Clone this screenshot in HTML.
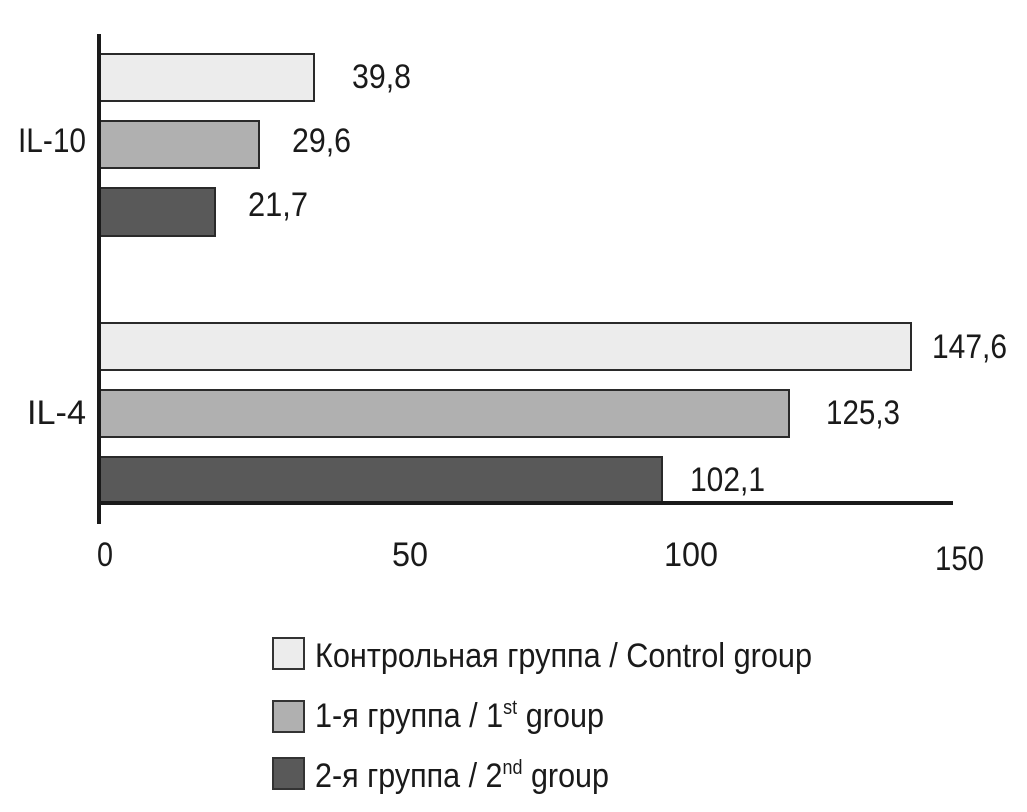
<!DOCTYPE html>
<html><head><meta charset="utf-8"><style>
html,body{margin:0;padding:0;background:#fff;}
svg{display:block}
text{font-family:"Liberation Sans Narrow","Liberation Sans",sans-serif;fill:#1a1a1a;font-size:34px}
</style></head><body>
<svg width="1027" height="812" viewBox="0 0 1027 812">
<g stroke="#2a2a2a" stroke-width="2">
<rect x="100" y="54" width="214" height="47" fill="#ececec"/>
<rect x="100" y="121" width="159" height="47" fill="#b0b0b0"/>
<rect x="100" y="188" width="115" height="48" fill="#595959"/>
<rect x="100" y="323" width="811" height="47" fill="#ececec"/>
<rect x="100" y="390" width="689" height="47" fill="#b0b0b0"/>
<rect x="100" y="457" width="562" height="47" fill="#595959"/>
</g>
<line x1="99" y1="34" x2="99" y2="524" stroke="#1a1a1a" stroke-width="4"/>
<line x1="97" y1="503" x2="953" y2="503" stroke="#1a1a1a" stroke-width="4"/>
<g lengthAdjust="spacingAndGlyphs">
<text x="352" y="88" textLength="59" lengthAdjust="spacingAndGlyphs">39,8</text>
<text x="292" y="152" textLength="59" lengthAdjust="spacingAndGlyphs">29,6</text>
<text x="248" y="216" textLength="60" lengthAdjust="spacingAndGlyphs">21,7</text>
<text x="932" y="358" textLength="75" lengthAdjust="spacingAndGlyphs">147,6</text>
<text x="826" y="424" textLength="74" lengthAdjust="spacingAndGlyphs">125,3</text>
<text x="690" y="491" textLength="75" lengthAdjust="spacingAndGlyphs">102,1</text>
<text x="18" y="152" textLength="68" lengthAdjust="spacingAndGlyphs">IL-10</text>
<text x="27" y="424" textLength="59" lengthAdjust="spacingAndGlyphs">IL-4</text>
<text x="97" y="566" textLength="16" lengthAdjust="spacingAndGlyphs">0</text>
<text x="392" y="566" textLength="36" lengthAdjust="spacingAndGlyphs">50</text>
<text x="664" y="566" textLength="54" lengthAdjust="spacingAndGlyphs">100</text>
<text x="935" y="570" textLength="49" lengthAdjust="spacingAndGlyphs">150</text>
</g>
<g stroke="#333" stroke-width="2">
<rect x="273" y="638" width="31" height="31" fill="#ececec"/>
<rect x="273" y="701" width="31" height="31" fill="#b0b0b0"/>
<rect x="273" y="758" width="31" height="31" fill="#595959"/>
</g>
<text x="315" y="667" textLength="497" lengthAdjust="spacingAndGlyphs">Контрольная группа / Control group</text>
<text x="315" y="727" textLength="289" lengthAdjust="spacingAndGlyphs">1-я группа / 1<tspan font-size="20" dy="-13">st</tspan><tspan dy="13"> group</tspan></text>
<text x="315" y="787" textLength="294" lengthAdjust="spacingAndGlyphs">2-я группа / 2<tspan font-size="20" dy="-13">nd</tspan><tspan dy="13"> group</tspan></text>
</svg>
</body></html>
